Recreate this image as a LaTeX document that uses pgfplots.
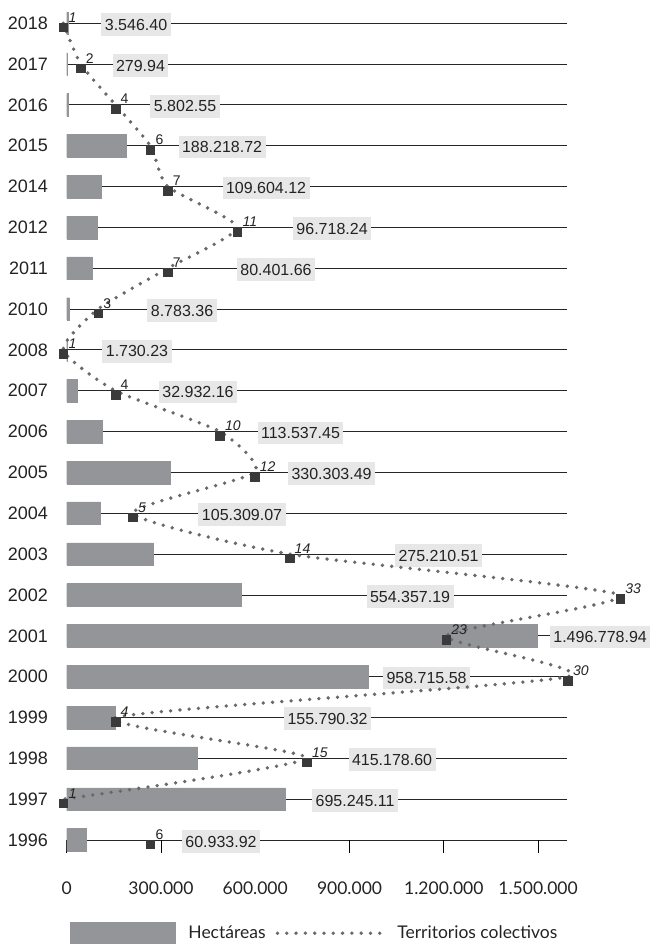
\documentclass[border=0pt]{standalone}
\usepackage{fontspec}
\setmainfont{Liberation Sans}
\newfontfamily\lato{Lato}
\usepackage{pgfplots}
\pgfplotsset{compat=1.18}
\usepackage{pgfplotstable}

\definecolor{barcol}{RGB}{147,149,152}
\definecolor{boxcol}{RGB}{231,231,232}
\definecolor{dotcol}{RGB}{105,105,105}
\definecolor{mkcol}{RGB}{58,58,58}
\definecolor{txtcol}{RGB}{35,35,35}

% hectares per year (row 0 = 2018 ... row 20 = 1996)
\pgfplotstableread{
row ha
0 3546.40
1 279.94
2 5802.55
3 188218.72
4 109604.12
5 96718.24
6 80401.66
7 8783.36
8 1730.23
9 32932.16
10 113537.45
11 330303.49
12 105309.07
13 275210.51
14 554357.19
15 1496778.94
16 958715.58
17 155790.32
18 415178.60
19 695245.11
20 60933.92
}\hadata

% number of collective territories
\pgfplotstableread{
row n
0 1
1 2
2 4
3 6
4 7
5 11
6 7
7 3
8 1
9 4
10 10
11 12
12 5
13 14
14 33
15 23
16 30
17 4
18 15
19 1
20 6
}\cdata

\tikzset{
  vlab/.style={fill=boxcol, text=txtcol, font=\fontsize{16}{16}\selectfont,
    inner xsep=3.5pt, inner ysep=0pt, text height=11.5pt, text depth=0pt,
    minimum height=22.7pt, anchor=center, yshift=-1.3pt},
  dotline/.style={dotcol, line width=3.8pt, line cap=round, dash pattern=on 0pt off 9.3pt},
}

\begin{document}
\begin{tikzpicture}
\path[use as bounding box] (0pt,0pt) rectangle (650pt,944pt);
\begin{axis}[
  at={(66.7pt,104pt)}, anchor=south west,
  scale only axis, width=500pt, height=840.1pt,
  xmin=0, xmax=1591000, ymin=-0.571, ymax=20, y dir=reverse,
  clip=false, scaled x ticks=false,
  axis line style={draw=none},
  xtick={0,300000,600000,900000,1200000,1500000},
  xticklabels={0,300.000,600.000,900.000,1.200.000,1.500.000},
  xtick pos=bottom, tick align=outside, major tick length=13pt,
  xtick style={black, line width=0.8pt},
  xticklabel style={font=\lato\fontsize{17.5}{17.5}\selectfont, text=txtcol, inner sep=0pt, anchor=north, yshift=-29pt},
  ytick={0,...,20},
  yticklabels={2018,2017,2016,2015,2014,2012,2011,2010,2008,2007,2006,2005,2004,2003,2002,2001,2000,1999,1998,1997,1996},
  ytick style={draw=none},
  yticklabel style={font=\fontsize{18}{18}\selectfont, text=txtcol, inner sep=0pt, anchor=east, xshift=-5.7pt},
  ymajorgrids, grid style={black!85, line width=0.9pt},
  legend style={at={(axis description cs:0,0)}, anchor=north west, xshift=3.3pt, yshift=-82pt,
    draw=none, fill=none, inner sep=0pt, outer sep=0pt,
    font=\lato\fontsize{17.5}{17.5}\selectfont, text=txtcol,
    nodes={inner sep=0pt},
    /tikz/every odd column/.append style={column sep=13pt},
    /tikz/every even column/.append style={column sep=10pt}},
  legend columns=2, legend cell align=left,
]
\addplot[xbar, bar width=22.7pt, fill=barcol, draw=barcol, line width=0.4pt,
  legend image code/.code={\fill[barcol] (0pt,-11pt) rectangle (105pt,11pt);}]
  table[x=ha, y=row] {\hadata};
\addlegendentry{Hectáreas}
\addlegendimage{legend image code/.code={\draw[dotline] (0pt,0pt) -- (105pt,0pt);}}
\addlegendentry{Territorios colectivos}

\node[vlab] at (axis cs:220600,0) {3.546.40};
\node[vlab] at (axis cs:234900,1) {279.94};
\node[vlab] at (axis cs:376500,2) {5.802.55};
\node[vlab] at (axis cs:494300,3) {188.218.72};
\node[vlab] at (axis cs:634300,4) {109.604.12};
\node[vlab] at (axis cs:844400,5) {96.718.24};
\node[vlab] at (axis cs:666100,6) {80.401.66};
\node[vlab] at (axis cs:367000,7) {8.783.36};
\node[vlab] at (axis cs:223700,8) {1.730.23};
\node[vlab] at (axis cs:417900,9) {32.932.16};
\node[vlab] at (axis cs:744100,10) {113.537.45};
\node[vlab] at (axis cs:842800,11) {330.303.49};
\node[vlab] at (axis cs:557900,12) {105.309.07};
\node[vlab] at (axis cs:1183300,13) {275.210.51};
\node[vlab] at (axis cs:1092600,14) {554.357.19};
\node[vlab] at (axis cs:1697300,15) {1.496.778.94};
\node[vlab] at (axis cs:1145100,16) {958.715.58};
\node[vlab] at (axis cs:830000,17) {155.790.32};
\node[vlab] at (axis cs:1035300,18) {415.178.60};
\node[vlab] at (axis cs:917600,19) {695.245.11};
\node[vlab] at (axis cs:491100,20) {60.933.92};
\end{axis}

\begin{axis}[
  at={(66.7pt,104pt)}, anchor=south west,
  scale only axis, width=500pt, height=840.1pt,
  xmin=1.195, xmax=29.93, ymin=-0.571, ymax=20, y dir=reverse,
  clip=false, hide axis,
]
\addplot[dotline, smooth, tension=0.35, skip coords between index={20}{21}]
  table[x=n, y=row] {\cdata};
\addplot[only marks, mark=square*, mark size=4.3pt, color=mkcol,
  mark options={rounded corners=1.2pt}, yshift=-4pt,
  point meta=explicit symbolic, nodes near coords,
  every node near coord/.append style={anchor=base west, xshift=5pt, yshift=5pt,
    inner sep=0pt, text=txtcol, font=\fontsize{14}{14}\selectfont}]
  coordinates {
  (1,0) [\textit{1}] (2,1) [2] (4,2) [4] (6,3) [6] (7,4) [7]
  (11,5) [\textit{11}] (7,6) [7] (3,7) [3] (1,8) [\textit{1}] (4,9) [4]
  (10,10) [\textit{10}] (12,11) [\textit{12}] (5,12) [\textit{5}] (14,13) [\textit{14}]
  (33,14) [\textit{33}] (23,15) [\textit{23}] (30,16) [\textit{30}] (4,17) [\textit{4}]
  (15,18) [\textit{15}] (1,19) [\textit{1}] (6,20) [6]
  };
\end{axis}
\end{tikzpicture}
\end{document}
